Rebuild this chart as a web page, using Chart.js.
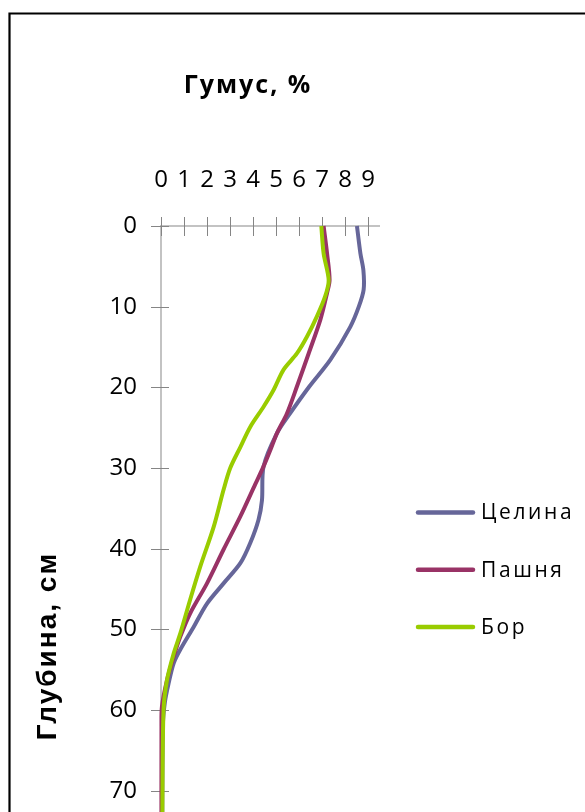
<!DOCTYPE html>
<html lang="ru">
<head>
<meta charset="utf-8">
<title>Гумус, %</title>
<script src="https://cdn.jsdelivr.net/npm/chart.js@4.4.1/dist/chart.umd.min.js"></script>
<style>
  html, body { margin: 0; padding: 0; background: #ffffff; overflow: hidden; }
  #wrap { position: relative; width: 585px; height: 880px; }
  canvas { display: block; }
</style>
</head>
<body>
<div id="wrap"><canvas id="humusChart" width="585" height="880"></canvas></div>
<script>
// Humus content (%) down the soil profile (depth, cm)
const chartTitle = 'Гумус, %';
const depthAxisTitle = 'Глубина, см';
const seriesNames = ['Целина', 'Пашня', 'Бор'];
const seriesColors = ['#666699', '#993366', '#99CC00'];

const humusTicks = [0, 1, 2, 3, 4, 5, 6, 7, 8, 9];
const depthTicks = [0, 10, 20, 30, 40, 50, 60, 70, 80];

// Целина (virgin land)
const celinaDepth = [0, 3.4, 5.5, 7.9, 10, 12.5, 16.6, 19.9, 23.2, 25.7, 29.8, 34, 36.4, 39.3, 41.8, 44.3, 46.8, 49.7, 52.5, 54.2, 56.7, 59, 62, 80];
const celinaHumus = [8.52, 8.67, 8.8, 8.81, 8.6, 8.23, 7.36, 6.45, 5.62, 5.04, 4.46, 4.39, 4.24, 3.88, 3.45, 2.72, 2.0, 1.42, 0.84, 0.55, 0.33, 0.17, 0.08, 0.05];

// Пашня (arable land)
const pashnyaDepth = [0, 3.4, 6.7, 8.3, 11.6, 15.8, 19.9, 23.2, 25.7, 27.8, 29.8, 32, 36, 40.1, 44.3, 48, 50.9, 53.4, 56.3, 59.6, 62, 80];
const pashnyaHumus = [7.07, 7.22, 7.33, 7.22, 6.93, 6.42, 5.91, 5.48, 5.04, 4.75, 4.46, 4.1, 3.45, 2.72, 2.0, 1.27, 0.84, 0.55, 0.26, 0.04, 0.02, 0.02];

// Бор (pine forest)
const borDepth = [0, 3.4, 6.7, 8.7, 11.2, 13.7, 15.8, 17.8, 20.3, 22.4, 24.9, 27.4, 30, 32.7, 37.3, 42.2, 46.3, 50.5, 53, 56.3, 60, 72.5, 80];
const borHumus = [6.97, 7.07, 7.29, 7.14, 6.78, 6.35, 5.91, 5.33, 4.9, 4.46, 3.88, 3.45, 3.01, 2.72, 2.29, 1.71, 1.27, 0.84, 0.55, 0.26, 0.11, 0.06, 0.06];

const toPoints = (depth, humus) => depth.map((d, i) => ({ x: humus[i], y: d }));
const seriesPoints = [
  toPoints(celinaDepth, celinaHumus),
  toPoints(pashnyaDepth, pashnyaHumus),
  toPoints(borDepth, borHumus)
];

const AXIS_LINE = '#c3c3c3';
const TICK_MARK = '#858585';

// keep the plot box exactly where the axes should sit
function noScalePadding(s) {
  s.paddingTop = 0;
  s.paddingBottom = 0;
  s.paddingLeft = 0;
  s.paddingRight = 0;
}

// Frame, crossing tick marks, titles and the legend
const decorPlugin = {
  id: 'decor',
  beforeDraw(chart) {
    const ctx = chart.ctx;
    ctx.save();
    ctx.fillStyle = '#ffffff';
    ctx.fillRect(0, 0, chart.width, chart.height);
    ctx.strokeStyle = '#000000';
    ctx.lineWidth = 2.2;
    ctx.beginPath();
    ctx.moveTo(9.5, chart.height + 5);
    ctx.lineTo(9.5, 13.5);
    ctx.lineTo(chart.width + 5, 13.5);
    ctx.stroke();
    ctx.restore();
  },
  beforeDatasetsDraw(chart) {
    const ctx = chart.ctx;
    const xs = chart.scales.x, ys = chart.scales.y;
    const area = chart.chartArea;
    ctx.save();
    ctx.strokeStyle = TICK_MARK;
    ctx.lineWidth = 1;
    ctx.beginPath();
    xs.ticks.forEach(t => {
      const px = Math.round(xs.getPixelForValue(t.value)) + 0.5;
      ctx.moveTo(px, area.top - 9);
      ctx.lineTo(px, area.top + 10);
    });
    ys.ticks.forEach(t => {
      const py = Math.round(ys.getPixelForValue(t.value)) + 0.5;
      ctx.moveTo(area.left - 10, py);
      ctx.lineTo(area.left + 8, py);
    });
    ctx.stroke();
    ctx.restore();
  },
  afterDraw(chart) {
    const ctx = chart.ctx;
    ctx.save();
    ctx.fillStyle = '#000000';

    // main title
    ctx.font = "bold 25px 'Open Sans'";
    ctx.letterSpacing = '2px';
    ctx.textAlign = 'center';
    ctx.textBaseline = 'alphabetic';
    ctx.fillText(chartTitle, 248, 93);

    // depth axis title
    ctx.save();
    ctx.translate(55.5, 646);
    ctx.rotate(-Math.PI / 2);
    ctx.font = "bold 28px 'Liberation Sans'";
    ctx.letterSpacing = '2px';
    ctx.textAlign = 'center';
    ctx.textBaseline = 'alphabetic';
    ctx.fillText(depthAxisTitle, 0, 0);
    ctx.restore();

    // legend
    ctx.font = "21px 'Open Sans'";
    ctx.letterSpacing = '2.6px';
    ctx.textAlign = 'left';
    ctx.textBaseline = 'middle';
    chart.data.datasets.forEach((ds, i) => {
      const y = 512.5 + i * 57.2;
      ctx.strokeStyle = ds.borderColor;
      ctx.lineWidth = 4.5;
      ctx.lineCap = 'round';
      ctx.beginPath();
      ctx.moveTo(418, y);
      ctx.lineTo(473, y);
      ctx.stroke();
      ctx.fillText(ds.label, 481, y + 1);
    });
    ctx.letterSpacing = '0px';
    ctx.restore();
  }
};

new Chart(document.getElementById('humusChart'), {
  type: 'line',
  data: {
    datasets: seriesNames.map((name, i) => ({
      label: name,
      data: seriesPoints[i],
      borderColor: seriesColors[i],
      backgroundColor: seriesColors[i],
      borderWidth: 4,
      pointRadius: 0,
      pointHoverRadius: 0,
      tension: 0.3,
      fill: false,
      clip: 6,
      borderJoinStyle: 'round',
      // later series are painted over earlier ones
      order: seriesNames.length - 1 - i
    }))
  },
  options: {
    responsive: false,
    animation: false,
    devicePixelRatio: 1,
    events: [],
    layout: { padding: { left: 0, top: 0, right: 205.5, bottom: 8.6 } },
    plugins: {
      legend: { display: false },
      title: { display: false },
      tooltip: { enabled: false }
    },
    scales: {
      x: {
        type: 'linear',
        position: 'top',
        min: 0,
        max: 9.5,
        afterBuildTicks: s => { s.ticks = humusTicks.map(v => ({ value: v })); },
        afterFit: s => { s.height = 226; noScalePadding(s); },
        grid: { display: false, drawTicks: false },
        border: { display: true, color: AXIS_LINE, width: 2 },
        ticks: {
          color: '#000000',
          font: { family: "'Open Sans'", size: 24 },
          padding: 31,
          maxRotation: 0,
          minRotation: 0,
          autoSkip: false
        }
      },
      y: {
        type: 'linear',
        reverse: true,
        min: 0,
        max: 80,
        afterBuildTicks: s => { s.ticks = depthTicks.map(v => ({ value: v })); },
        afterFit: s => { s.width = 161; noScalePadding(s); },
        grid: { display: false, drawTicks: false },
        border: { display: true, color: AXIS_LINE, width: 2 },
        ticks: {
          color: '#000000',
          font: { family: "'Open Sans'", size: 24 },
          padding: 24,
          autoSkip: false
        }
      }
    }
  },
  plugins: [decorPlugin]
});
</script>
</body>
</html>
